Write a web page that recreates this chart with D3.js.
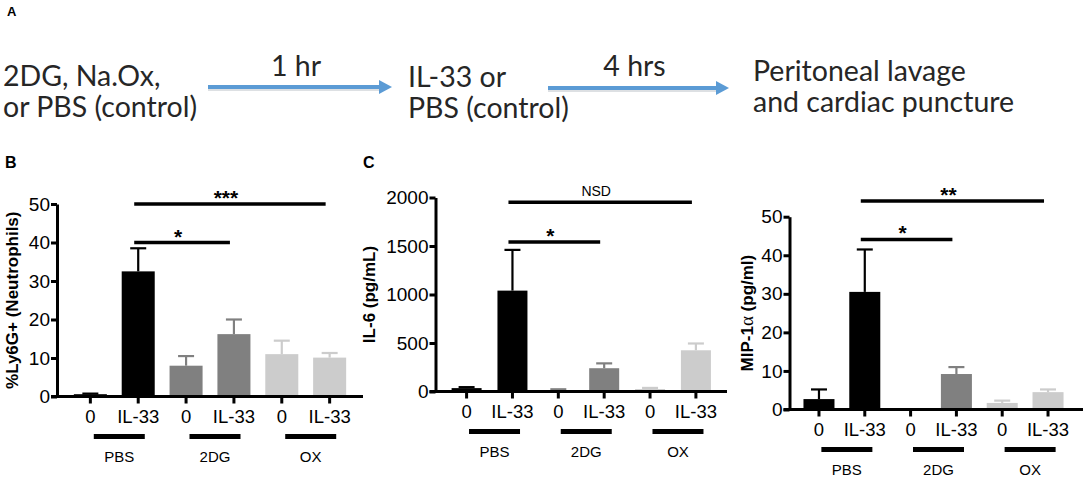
<!DOCTYPE html>
<html>
<head>
<meta charset="utf-8">
<script src="https://cdn.jsdelivr.net/npm/d3@7"></script>
<style>
  html, body { margin: 0; padding: 0; background: #fff; }
  svg { display: block; }
</style>
</head>
<body>
<svg id="chart" width="1084" height="477"></svg>
<script>
// categories (two per treatment group)
const categories = ['PBS-0', 'PBS-IL33', '2DG-0', '2DG-IL33', 'OX-0', 'OX-IL33'];
const tickLabels = ['0', 'IL-33', '0', 'IL-33', '0', 'IL-33'];
const groups = ['PBS', '2DG', 'OX'];
const groupOf = [0, 0, 1, 1, 2, 2];
const groupColors = ['#000000', '#808080', '#cccccc'];

// B: %Ly6G+ neutrophils
const neutroMean = [0.6, 32.5, 8.0, 16.2, 11.0, 10.1];
const neutroErr = [0.15, 6.0, 2.5, 3.8, 3.5, 1.2];
const neutroTicks = [0, 10, 20, 30, 40, 50];
const neutroSig = [
  {from: 1, to: 3, value: 40, label: '*'},
  {from: 1, to: 5, value: 50, label: '***'}
];

// C: IL-6 pg/mL
const il6Mean = [35, 1040, 15, 240, 25, 425];
const il6Err = [10, 420, 8, 50, 12, 70];
const il6Ticks = [0, 500, 1000, 1500, 2000];
const il6Sig = [
  {from: 1, to: 3, value: 1540, label: '*'},
  {from: 1, to: 5, value: 1950, label: 'NSD'}
];

// D: MIP-1a pg/ml
const mipMean = [2.7, 30.5, 0, 9.2, 1.7, 4.5];
const mipErr = [2.5, 11.0, 0, 1.8, 0.6, 0.7];
const mipTicks = [0, 10, 20, 30, 40, 50];
const mipSig = [
  {from: 1, to: 3, value: 44.1, label: '*'},
  {from: 1, to: 5, value: 54.1, label: '**'}
];

const svg = d3.select('#chart');
const AXIS_FONT = "'Liberation Sans', Arial, sans-serif";
const TOP_FONT = "Lato, 'Open Sans', sans-serif";

/**
 ** A: protocol scheme
 */
svg.append('text')
  .attr('x', 7).attr('y', 16)
  .attr('font-family', AXIS_FONT).attr('font-weight', 'bold').attr('font-size', 13)
  .text('A');

const schemeText = [
  {x: 3, y: 86, t: '2DG, Na.Ox,'},
  {x: 3, y: 117, t: 'or PBS (control)'},
  {x: 408, y: 87, t: 'IL-33 or'},
  {x: 408, y: 118, t: 'PBS (control)'},
  {x: 753, y: 81, t: 'Peritoneal lavage'},
  {x: 753, y: 112, t: 'and cardiac puncture'}
];
svg.selectAll('text.scheme').data(schemeText).enter()
  .append('text').attr('class', 'scheme')
  .attr('x', d => d.x).attr('y', d => d.y)
  .attr('font-family', TOP_FONT).attr('font-size', 28.5).attr('fill', '#262626')
  .text(d => d.t);

const arrows = [
  {x1: 208, x2: 392, y: 87, label: '1 hr', ly: 76},
  {x1: 548, x2: 729, y: 88, label: '4 hrs', ly: 76}
];
arrows.forEach(a => {
  svg.append('line')
    .attr('x1', a.x1).attr('x2', a.x2 - 12).attr('y1', a.y + 2).attr('y2', a.y + 2)
    .attr('stroke', '#c8ccd2').attr('stroke-width', 4).attr('opacity', 0.6);
  svg.append('line')
    .attr('x1', a.x1).attr('x2', a.x2 - 10).attr('y1', a.y).attr('y2', a.y)
    .attr('stroke', '#5b9bd5').attr('stroke-width', 4);
  svg.append('path')
    .attr('d', `M${a.x2},${a.y} L${a.x2 - 13},${a.y - 7} L${a.x2 - 13},${a.y + 7} Z`)
    .attr('fill', '#5b9bd5');
  svg.append('text')
    .attr('x', (a.x1 + a.x2) / 2 - 4).attr('y', a.ly)
    .attr('text-anchor', 'middle')
    .attr('font-family', TOP_FONT).attr('font-size', 28.5).attr('fill', '#262626')
    .text(a.label);
});

/**
 ** B, C, D: bar charts
 */
const panels = [
  {letter: 'B', letterX: 5, title: ['%Ly6G+ (Neutrophils)'], titleX: 12,
   mean: neutroMean, err: neutroErr, ticks: neutroTicks, sig: neutroSig,
   axisX: 57, axisEnd: 363, xRange: [57, 363], pi: 0.31, po: 0.352,
   y0: 396.5, y1: 204},
  {letter: 'C', letterX: 363, title: ['IL-6 (pg/mL)'], titleX: 369,
   mean: il6Mean, err: il6Err, ticks: il6Ticks, sig: il6Sig,
   axisX: 435.5, axisEnd: 727, xRange: [435.5, 727], pi: 0.346, po: 0.351,
   y0: 391.5, y1: 197.5},
  {letter: null, title: ['MIP-1', 'α', ' (pg/ml)'], titleX: 747,
   mean: mipMean, err: mipErr, ticks: mipTicks, sig: mipSig,
   axisX: 789.5, axisEnd: 1083, xRange: [786.7, 1080.3], pi: 0.323, po: 0.366,
   y0: 409.5, y1: 216.7}
];

panels.forEach(p => {
  const g = svg.append('g');
  const tMax = p.ticks[p.ticks.length - 1];

  const x = d3.scaleBand().domain(categories).range(p.xRange)
    .paddingInner(p.pi).paddingOuter(p.po);
  const y = d3.scaleLinear().domain([0, tMax]).range([p.y0, p.y1]);
  const cx = c => x(c) + x.bandwidth() / 2;

  if (p.letter) {
    g.append('text')
      .attr('x', p.letterX).attr('y', 168)
      .attr('font-family', AXIS_FONT).attr('font-weight', 'bold').attr('font-size', 16)
      .text(p.letter);
  }

  // bars
  g.selectAll('rect.bar').data(categories).enter()
    .append('rect').attr('class', 'bar')
    .attr('x', c => x(c))
    .attr('y', (c, i) => y(p.mean[i]))
    .attr('width', x.bandwidth())
    .attr('height', (c, i) => p.y0 - y(p.mean[i]))
    .attr('fill', (c, i) => groupColors[groupOf[i]]);

  // error bars (upper only)
  categories.forEach((c, i) => {
    if (p.err[i] <= 0) return;
    const col = groupColors[groupOf[i]],
      top = y(p.mean[i] + p.err[i]);
    g.append('line')
      .attr('x1', cx(c)).attr('x2', cx(c))
      .attr('y1', y(p.mean[i])).attr('y2', top)
      .attr('stroke', col).attr('stroke-width', 2.2);
    g.append('line')
      .attr('x1', cx(c) - 8).attr('x2', cx(c) + 8)
      .attr('y1', top).attr('y2', top)
      .attr('stroke', col).attr('stroke-width', 2.2);
  });

  // y axis
  const yAxis = g.append('g')
    .attr('transform', `translate(${p.axisX},0)`)
    .call(d3.axisLeft(y).tickValues(p.ticks).tickFormat(d3.format('d'))
      .tickSize(6).tickSizeOuter(0).tickPadding(1));
  yAxis.select('.domain').attr('stroke-width', 3).attr('stroke', '#000');
  yAxis.selectAll('.tick line').attr('stroke-width', 3).attr('stroke', '#000');
  yAxis.selectAll('.tick text')
    .attr('font-family', AXIS_FONT).attr('font-size', 19).attr('fill', '#000');

  // x axis
  g.append('line')
    .attr('x1', p.axisX - 6).attr('x2', p.axisEnd)
    .attr('y1', p.y0).attr('y2', p.y0)
    .attr('stroke', '#000').attr('stroke-width', 3);
  g.selectAll('line.xtick').data(categories).enter()
    .append('line').attr('class', 'xtick')
    .attr('x1', cx).attr('x2', cx)
    .attr('y1', p.y0).attr('y2', p.y0 + 7)
    .attr('stroke', '#000').attr('stroke-width', 3);
  g.selectAll('text.xlab').data(categories).enter()
    .append('text').attr('class', 'xlab')
    .attr('x', cx).attr('y', p.y0 + 26)
    .attr('text-anchor', 'middle')
    .attr('font-family', AXIS_FONT).attr('font-size', 18.5)
    .text((c, i) => tickLabels[i]);

  // group bars and labels
  groups.forEach((grp, k) => {
    const mid = (cx(categories[2 * k]) + cx(categories[2 * k + 1])) / 2 + 5;
    g.append('line')
      .attr('x1', mid - 25.5).attr('x2', mid + 25.5)
      .attr('y1', p.y0 + 40).attr('y2', p.y0 + 40)
      .attr('stroke', '#000').attr('stroke-width', 5);
    g.append('text')
      .attr('x', mid).attr('y', p.y0 + 65)
      .attr('text-anchor', 'middle')
      .attr('font-family', AXIS_FONT).attr('font-size', 15)
      .text(grp);
  });

  // significance lines
  p.sig.forEach(s => {
    const xa = cx(categories[s.from]) - 4,
      xb = cx(categories[s.to]) - 4,
      yy = y(s.value);
    g.append('line')
      .attr('x1', xa).attr('x2', xb).attr('y1', yy).attr('y2', yy)
      .attr('stroke', '#000').attr('stroke-width', 3.5);
    const isStar = s.label.indexOf('*') === 0;
    g.append('text')
      .attr('x', (xa + xb) / 2 - 4)
      .attr('y', isStar ? yy + 1 : yy - 6)
      .attr('text-anchor', 'middle')
      .attr('font-family', AXIS_FONT)
      .attr('font-weight', isStar ? 'bold' : 'normal')
      .attr('font-size', isStar ? 21 : 14)
      .text(s.label);
  });

  // y axis title
  const title = g.append('text')
    .attr('transform', `translate(${p.titleX},${(p.y0 + p.y1) / 2}) rotate(-90)`)
    .attr('text-anchor', 'middle')
    .attr('dy', '0.35em')
    .attr('font-family', AXIS_FONT).attr('font-weight', 'bold').attr('font-size', 17);
  p.title.forEach(part => {
    const ts = title.append('tspan').text(part);
    if (part === 'α') ts.attr('font-weight', 'normal').attr('font-family', "'Liberation Serif', serif").attr('font-size', 19);
  });
});
</script>
</body>
</html>
